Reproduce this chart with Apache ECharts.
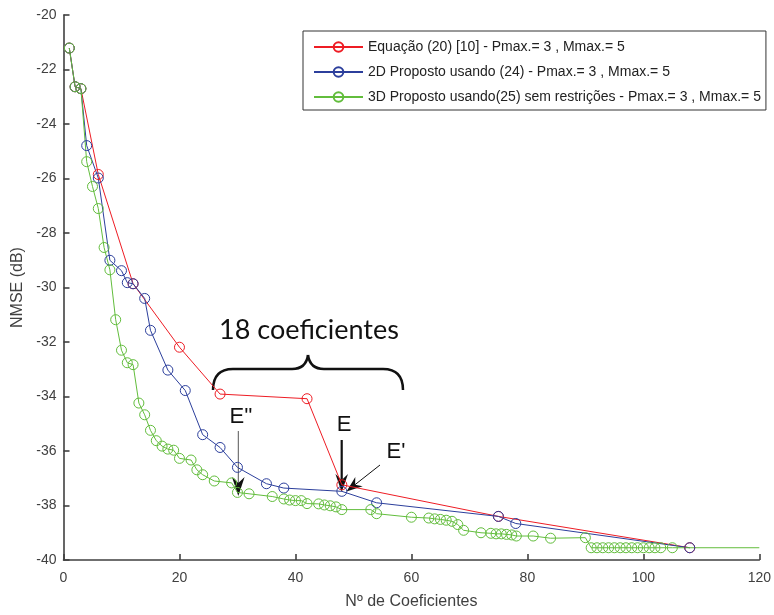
<!DOCTYPE html>
<html>
<head>
<meta charset="utf-8">
<script src="https://cdn.jsdelivr.net/npm/echarts@6/dist/echarts.min.js"></script>
<style>html,body{margin:0;padding:0;background:#fff}#c{width:774px;height:615px}</style>
</head>
<body>
<div id="c"></div>
<script>
// ---- data ----
var seriesNames = [
  'Equação (20) [10] - Pmax.= 3 , Mmax.= 5',
  '2D Proposto usando (24) - Pmax.= 3 , Mmax.= 5',
  '3D Proposto usando(25) sem restrições - Pmax.= 3 , Mmax.= 5'
];
var redX = [1, 2, 3, 6, 12, 20, 27, 42, 48, 75, 108];
var redY = [-21.21, -22.63, -22.70, -25.85, -29.86, -32.19, -33.91, -34.08, -37.24, -38.40, -39.55];

var blueX = [1, 2, 3, 4, 6, 8, 10, 11, 12, 14, 15, 18, 21, 24, 27, 30, 35, 38, 48, 54, 75, 78, 108];
var blueY = [-21.21, -22.63, -22.70, -24.79, -25.98, -29.00, -29.38, -29.82, -29.86, -30.40, -31.57,
             -33.03, -33.78, -35.40, -35.87, -36.60, -37.20, -37.36, -37.48, -37.90, -38.40, -38.66, -39.55];

var greenX = [1, 2, 3, 4, 5, 6, 7, 8, 9, 10, 11, 12, 13, 14, 15, 16, 17, 18, 19, 20, 22, 23, 24, 26, 29, 30, 32,
              36, 38, 39, 40, 41, 42, 44, 45, 46, 47, 48, 53, 54, 60, 63, 64, 65, 66, 67, 68, 69,
              72, 73.7, 74.6, 75.5, 76.4, 77.3, 78.1, 81, 84, 90,
              91, 92, 93, 94, 95, 96, 97, 98, 99, 100, 101, 102, 103, 105, 120];
var greenY = [-21.21, -22.63, -22.70, -25.38, -26.29, -27.10, -28.53, -29.35, -31.18, -32.30, -32.76, -32.83,
              -34.24, -34.67, -35.24, -35.62, -35.82, -35.93, -35.97, -36.27, -36.33, -36.69, -36.87, -37.10,
              -37.17, -37.52, -37.57,
              -37.67, -37.76, -37.80, -37.82, -37.82, -37.93, -37.94, -37.98, -38.01, -38.05, -38.15, -38.15, -38.30,
              -38.43, -38.46, -38.49, -38.51, -38.54, -38.58, -38.70, -38.91,
              -39.00, -39.02, -39.04, -39.04, -39.06, -39.08, -39.12, -39.12, -39.20, -39.18,
              -39.55, -39.55, -39.55, -39.55, -39.55, -39.55, -39.55, -39.55, -39.55, -39.55, -39.55, -39.55,
              -39.55, -39.55, -39.55];
// the green curve continues to the right edge of the axes without a marker
var greenMarkerlessFrom = 120;

var xTicks = [0, 20, 40, 60, 80, 100, 120];
var yTicks = [-40, -38, -36, -34, -32, -30, -28, -26, -24, -22, -20];

var colors = ['#ee1c24', '#2c3f9c', '#62bd3c'];

function pairs(xs, ys, noMarkerFrom) {
  return xs.map(function (x, i) {
    if (noMarkerFrom !== undefined && x >= noMarkerFrom) {
      return { value: [x, ys[i]], symbol: 'none' };
    }
    return [x, ys[i]];
  });
}

function mkSeries(name, data, color) {
  return {
    name: name,
    type: 'line',
    data: data,
    symbol: 'circle',
    symbolSize: 10,
    showSymbol: true,
    lineStyle: { color: color, width: 1 },
    itemStyle: { color: 'rgba(255,255,255,0)', borderColor: color, borderWidth: 1 },
    emphasis: { disabled: true },
    animation: false
  };
}

var chart = echarts.init(document.getElementById('c'), null, { renderer: 'canvas' });
var axisColor = '#404040';
var labelFont = 'Liberation Sans, Arial, sans-serif';
var braceStyle = { fill: 'none', stroke: '#111', lineWidth: 2.5 };

chart.setOption({
  backgroundColor: '#fff',
  animation: false,
  grid: { left: 63.5, right: 12.3, top: 15.1, bottom: 50.8, containLabel: false },
  xAxis: {
    type: 'value', min: xTicks[0], max: xTicks[xTicks.length - 1], interval: 20,
    name: 'Nº de Coeficientes', nameLocation: 'middle', nameGap: 34,
    nameTextStyle: { color: axisColor, fontSize: 16, fontFamily: labelFont },
    axisLine: { show: true, onZero: false, lineStyle: { color: axisColor, width: 1.6 } },
    axisTick: { show: true, inside: true, length: 6, lineStyle: { color: axisColor, width: 1.6 } },
    axisLabel: { color: axisColor, fontSize: 14, fontFamily: labelFont, margin: 11 },
    splitLine: { show: false }
  },
  yAxis: {
    type: 'value', min: yTicks[0], max: yTicks[yTicks.length - 1], interval: 2,
    name: 'NMSE (dB)', nameLocation: 'middle', nameGap: 29, nameRotate: 90,
    nameTextStyle: { color: axisColor, fontSize: 16, fontFamily: labelFont },
    axisLine: { show: true, onZero: false, lineStyle: { color: axisColor, width: 1.6 } },
    axisTick: { show: true, inside: true, length: 6, lineStyle: { color: axisColor, width: 1.6 } },
    axisLabel: { color: axisColor, fontSize: 14, fontFamily: labelFont, margin: 7 },
    splitLine: { show: false }
  },
  legend: {
    orient: 'vertical', left: 303, top: 31,
    backgroundColor: '#fff', borderColor: '#333', borderWidth: 1,
    padding: [9, 5, 6, 10], itemGap: 11, itemWidth: 49, itemHeight: 12,
    textStyle: { color: '#222', fontSize: 14, fontFamily: labelFont },
    data: seriesNames
  },
  series: [
    mkSeries(seriesNames[0], pairs(redX, redY), colors[0]),
    mkSeries(seriesNames[1], pairs(blueX, blueY), colors[1]),
    mkSeries(seriesNames[2], pairs(greenX, greenY, greenMarkerlessFrom), colors[2])
  ],
  graphic: [
    { type: 'bezierCurve', shape: { x1: 213, y1: 390, cpx1: 213, cpy1: 369, x2: 233, y2: 369 }, style: braceStyle },
    { type: 'line', shape: { x1: 233, y1: 369, x2: 292, y2: 369 }, style: braceStyle },
    { type: 'bezierCurve', shape: { x1: 292, y1: 369, cpx1: 306, cpy1: 369, x2: 308, y2: 355 }, style: braceStyle },
    { type: 'bezierCurve', shape: { x1: 308, y1: 355, cpx1: 310, cpy1: 369, x2: 324, y2: 369 }, style: braceStyle },
    { type: 'line', shape: { x1: 324, y1: 369, x2: 383, y2: 369 }, style: braceStyle },
    { type: 'bezierCurve', shape: { x1: 383, y1: 369, cpx1: 403, cpy1: 369, x2: 403, y2: 390 }, style: braceStyle },
    { type: 'text', x: 309, y: 330, style: { text: '18 coeficientes', font: '27px Lato, "Open Sans", sans-serif', fill: '#111', textAlign: 'center', textVerticalAlign: 'middle' } },
    // E''
    { type: 'text', x: 241, y: 417, style: { text: "E''", font: '22px "Liberation Sans", Arial, sans-serif', fill: '#111', textAlign: 'center', textVerticalAlign: 'middle' } },
    { type: 'line', shape: { x1: 238.3, y1: 431, x2: 238.3, y2: 483 }, style: { stroke: '#555', lineWidth: 1 } },
    { type: 'polygon', shape: { points: [[238.3, 496], [232, 477], [238.3, 483], [244.6, 477]] }, style: { fill: '#111' } },
    // E
    { type: 'text', x: 344, y: 425, style: { text: 'E', font: '22px "Liberation Sans", Arial, sans-serif', fill: '#111', textAlign: 'center', textVerticalAlign: 'middle' } },
    { type: 'line', shape: { x1: 341.7, y1: 440, x2: 341.7, y2: 480 }, style: { stroke: '#111', lineWidth: 2.2 } },
    { type: 'polygon', shape: { points: [[341.7, 492], [335.4, 474], [341.7, 480], [348, 474]] }, style: { fill: '#111' } },
    // E'
    { type: 'text', x: 396, y: 452, style: { text: "E'", font: '22px "Liberation Sans", Arial, sans-serif', fill: '#111', textAlign: 'center', textVerticalAlign: 'middle' } },
    { type: 'line', shape: { x1: 380, y1: 465, x2: 355, y2: 484.7 }, style: { stroke: '#111', lineWidth: 1 } },
    { type: 'polygon', shape: { points: [[346.5, 491.5], [362.7, 486.3], [355.1, 484.7], [355.3, 476.9]] }, style: { fill: '#111' } }
  ]
});
</script>
</body>
</html>
